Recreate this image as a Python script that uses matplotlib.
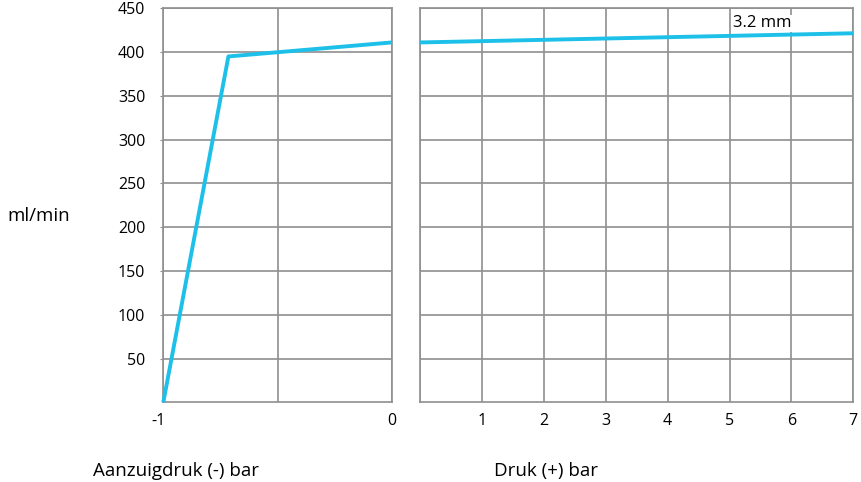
import matplotlib
matplotlib.use("Agg")
import matplotlib.pyplot as plt
import matplotlib.transforms as mtransforms

plt.rcParams['font.family'] = ['Open Sans', 'DejaVu Sans']

# Data
suction_x = [-1.0, -0.715, 0.0]
suction_y = [0, 395, 411]
pressure_x = [0, 7]
pressure_y = [411, 421.5]
y_ticks = [50, 100, 150, 200, 250, 300, 350, 400, 450]
left_xticks = [-1, 0]
right_xticks = [1, 2, 3, 4, 5, 6, 7]
annot_text = "3.2 mm"
annot_pos = (5.06, 433)
y_label = "ml/min"
left_xlabel = "Aanzuigdruk (-) bar"
right_xlabel = "Druk (+) bar"

line_color = '#1DC0E8'
grid_color = '#8f8f8f'
fs = 11.5
fs_lab = 13.5

fig = plt.figure(figsize=(8.61, 4.82), dpi=100)
ax1 = fig.add_axes([163.3/861, 1 - 402.3/482, 228.4/861, 394/482])
ax2 = fig.add_axes([420/861, 1 - 402.3/482, 433.3/861, 394/482])

for ax in (ax1, ax2):
    ax.set_ylim(0, 450)
    for s in ax.spines.values():
        s.set_color(grid_color)
        s.set_linewidth(1.2)
    ax.grid(True, color=grid_color, linewidth=1.2)
    ax.set_axisbelow(True)

ax1.set_xlim(-1, 0)
ax1.set_xticks([-1, -0.5, 0])
ax1.set_xticklabels([str(left_xticks[0]), '', str(left_xticks[1])])
ax1.set_yticks(y_ticks)
ax1.set_yticklabels([str(v) for v in y_ticks])
ax1.tick_params(axis='y', length=2, color=grid_color, pad=11, labelsize=fs)
ax1.tick_params(axis='x', length=0, pad=8, labelsize=fs)
shift = mtransforms.ScaledTranslation(-5/100, 0, fig.dpi_scale_trans)
lbl = ax1.get_xticklabels()[0]
lbl.set_transform(lbl.get_transform() + shift)
ax1.plot(suction_x, suction_y, color=line_color, linewidth=2.8, solid_capstyle='butt', clip_on=False, zorder=3)

ax2.set_xlim(0, 7)
ax2.set_xticks(range(0, 8))
ax2.set_xticklabels([''] + [str(v) for v in right_xticks])
ax2.set_yticks(y_ticks)
ax2.set_yticklabels([])
ax2.tick_params(axis='y', length=0)
ax2.tick_params(axis='x', length=0, pad=8, labelsize=fs)
ax2.plot(pressure_x, pressure_y, color=line_color, linewidth=2.8, solid_capstyle='butt', clip_on=False, zorder=3)
ax2.text(annot_pos[0], annot_pos[1], annot_text, fontsize=12, ha='left', va='center',
         bbox=dict(facecolor='white', edgecolor='none', pad=0.3), zorder=2.5)

fig.text(7/861, 1 - 216/482, y_label, fontsize=fs_lab, ha='left', va='center')
fig.text(92.7/861, 1 - 471/482, left_xlabel, fontsize=fs_lab, ha='left', va='center')
fig.text(494/861, 1 - 471/482, right_xlabel, fontsize=fs_lab, ha='left', va='center')

fig.savefig('out.png', dpi=100)
